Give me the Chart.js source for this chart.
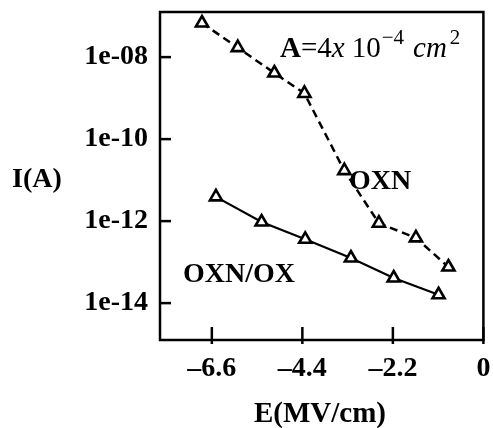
<!DOCTYPE html>
<html>
<head>
<meta charset="utf-8">
<script src="https://cdn.jsdelivr.net/npm/chart.js@4.4.1/dist/chart.umd.min.js"></script>
<style>
  html, body { margin: 0; padding: 0; background: #fff; }
  #wrap { width: 493px; height: 428px; }
</style>
</head>
<body>
<div id="wrap"><canvas id="myChart" width="493" height="428"></canvas></div>
<script>
// E (MV/cm) and I (A)
const oxnE = [-6.84, -5.97, -5.08, -4.35, -3.38, -2.54, -1.64, -0.85];
const oxnI = [6.8e-8, 1.7e-8, 4.1e-9, 1.3e-9, 1.7e-11, 8.9e-13, 3.9e-13, 7.6e-14];
const oxnOxE = [-6.50, -5.39, -4.33, -3.22, -2.18, -1.09];
const oxnOxI = [3.9e-12, 9.5e-13, 3.6e-13, 1.26e-13, 4.1e-14, 1.6e-14];

const xTicks = [-6.6, -4.4, -2.2, 0];
const xTickLabels = ["\u20136.6", "\u20134.4", "\u20132.2", "0"];
const yTicks = [1e-14, 1e-12, 1e-10, 1e-8];
const yTickLabels = ["1e-14", "1e-12", "1e-10", "1e-08"];

const serif = "'Liberation Serif', 'DejaVu Serif', serif";

function toPoints(xs, ys) {
  return xs.map((x, i) => ({ x: x, y: ys[i] }));
}

// frame, inside ticks and the text labels
const decor = {
  id: "decor",
  afterDraw(chart) {
    const c = chart.ctx;
    const a = chart.chartArea;
    const xs = chart.scales.x;
    const ys = chart.scales.y;
    c.save();
    c.strokeStyle = "#000";
    c.lineWidth = 2.5;
    c.strokeRect(a.left, a.top, a.right - a.left, a.bottom - a.top);

    yTicks.forEach(v => {
      const py = ys.getPixelForValue(v);
      c.beginPath(); c.moveTo(a.left, py); c.lineTo(a.left + 11, py); c.stroke();
    });
    xTicks.forEach(v => {
      const px = xs.getPixelForValue(v);
      c.beginPath(); c.moveTo(px, a.bottom - 13); c.lineTo(px, a.bottom + 4); c.stroke();
    });

    c.fillStyle = "#000";
    c.textBaseline = "middle";
    c.textAlign = "center";
    c.font = "bold 28px " + serif;
    c.fillText("I(A)", 37, 180);
    c.fillText("OXN", 380, 182);
    c.fillText("OXN/OX", 239, 275);
    c.font = "bold 29px " + serif;
    c.fillText("E(MV/cm)", 320, 415);

    // A=4x10^-4 cm^2
    c.textAlign = "left";
    c.textBaseline = "alphabetic";
    let x = 280;
    const base = 57;
    c.font = "bold 29px " + serif;
    c.fillText("A", x, base); x += c.measureText("A").width;
    c.font = "29px " + serif;
    c.fillText("=4", x, base); x += c.measureText("=4").width;
    c.font = "italic 29px " + serif;
    c.fillText("x", x, base); x += c.measureText("x").width + 7;
    c.font = "29px " + serif;
    c.fillText("10", x, base); x += c.measureText("10").width + 1;
    c.font = "21px " + serif;
    c.fillText("\u22124", x, base - 13); x += c.measureText("\u22124").width + 9;
    c.font = "italic 29px " + serif;
    c.fillText("cm", x, base); x += c.measureText("cm").width + 3;
    c.font = "21px " + serif;
    c.fillText("2", x, base - 13);
    c.restore();
  }
};

var ctx = document.getElementById("myChart").getContext("2d");
var myChart = new Chart(ctx, {
  type: "scatter",
  data: {
    datasets: [
      {
        label: "OXN",
        data: toPoints(oxnE, oxnI),
        showLine: true,
        borderColor: "#000",
        borderWidth: 2.5,
        borderDash: [8, 5],
        pointStyle: "triangle",
        pointRadius: 7,
        pointBorderWidth: 2.6,
        pointBackgroundColor: "#fff",
        pointBorderColor: "#000",
      },
      {
        label: "OXN/OX",
        data: toPoints(oxnOxE, oxnOxI),
        showLine: true,
        borderColor: "#000",
        borderWidth: 2.2,
        pointStyle: "triangle",
        pointRadius: 7,
        pointBorderWidth: 2.6,
        pointBackgroundColor: "#fff",
        pointBorderColor: "#000",
      },
    ],
  },
  options: {
    responsive: false,
    animation: false,
    layout: { padding: { top: 12, right: 9, left: 0, bottom: 0 } },
    plugins: {
      legend: { display: false },
      tooltip: { enabled: false },
    },
    scales: {
      x: {
        type: "linear",
        min: -7.86,
        max: 0,
        grid: { display: false, drawTicks: false },
        border: { display: false },
        afterBuildTicks: s => { s.ticks = xTicks.map(v => ({ value: v })); },
        afterFit: s => { s.height = 88; s.paddingLeft = 0; s.paddingRight = 0; },
        ticks: {
          padding: 12,
          color: "#000",
          font: { family: serif, size: 28, weight: "bold" },
          callback: (v) => xTickLabels[xTicks.indexOf(v)],
        },
      },
      y: {
        type: "logarithmic",
        min: 1.26e-15,
        max: 1.26e-7,
        grid: { display: false, drawTicks: false },
        border: { display: false },
        afterBuildTicks: s => { s.ticks = yTicks.map(v => ({ value: v })); },
        afterFit: s => { s.width = 160; s.paddingTop = 0; s.paddingBottom = 0; },
        ticks: {
          padding: 12,
          color: "#000",
          font: { family: serif, size: 28, weight: "bold" },
          callback: (v) => yTickLabels[yTicks.indexOf(v)],
        },
      },
    },
  },
  plugins: [decor],
});
</script>
</body>
</html>
